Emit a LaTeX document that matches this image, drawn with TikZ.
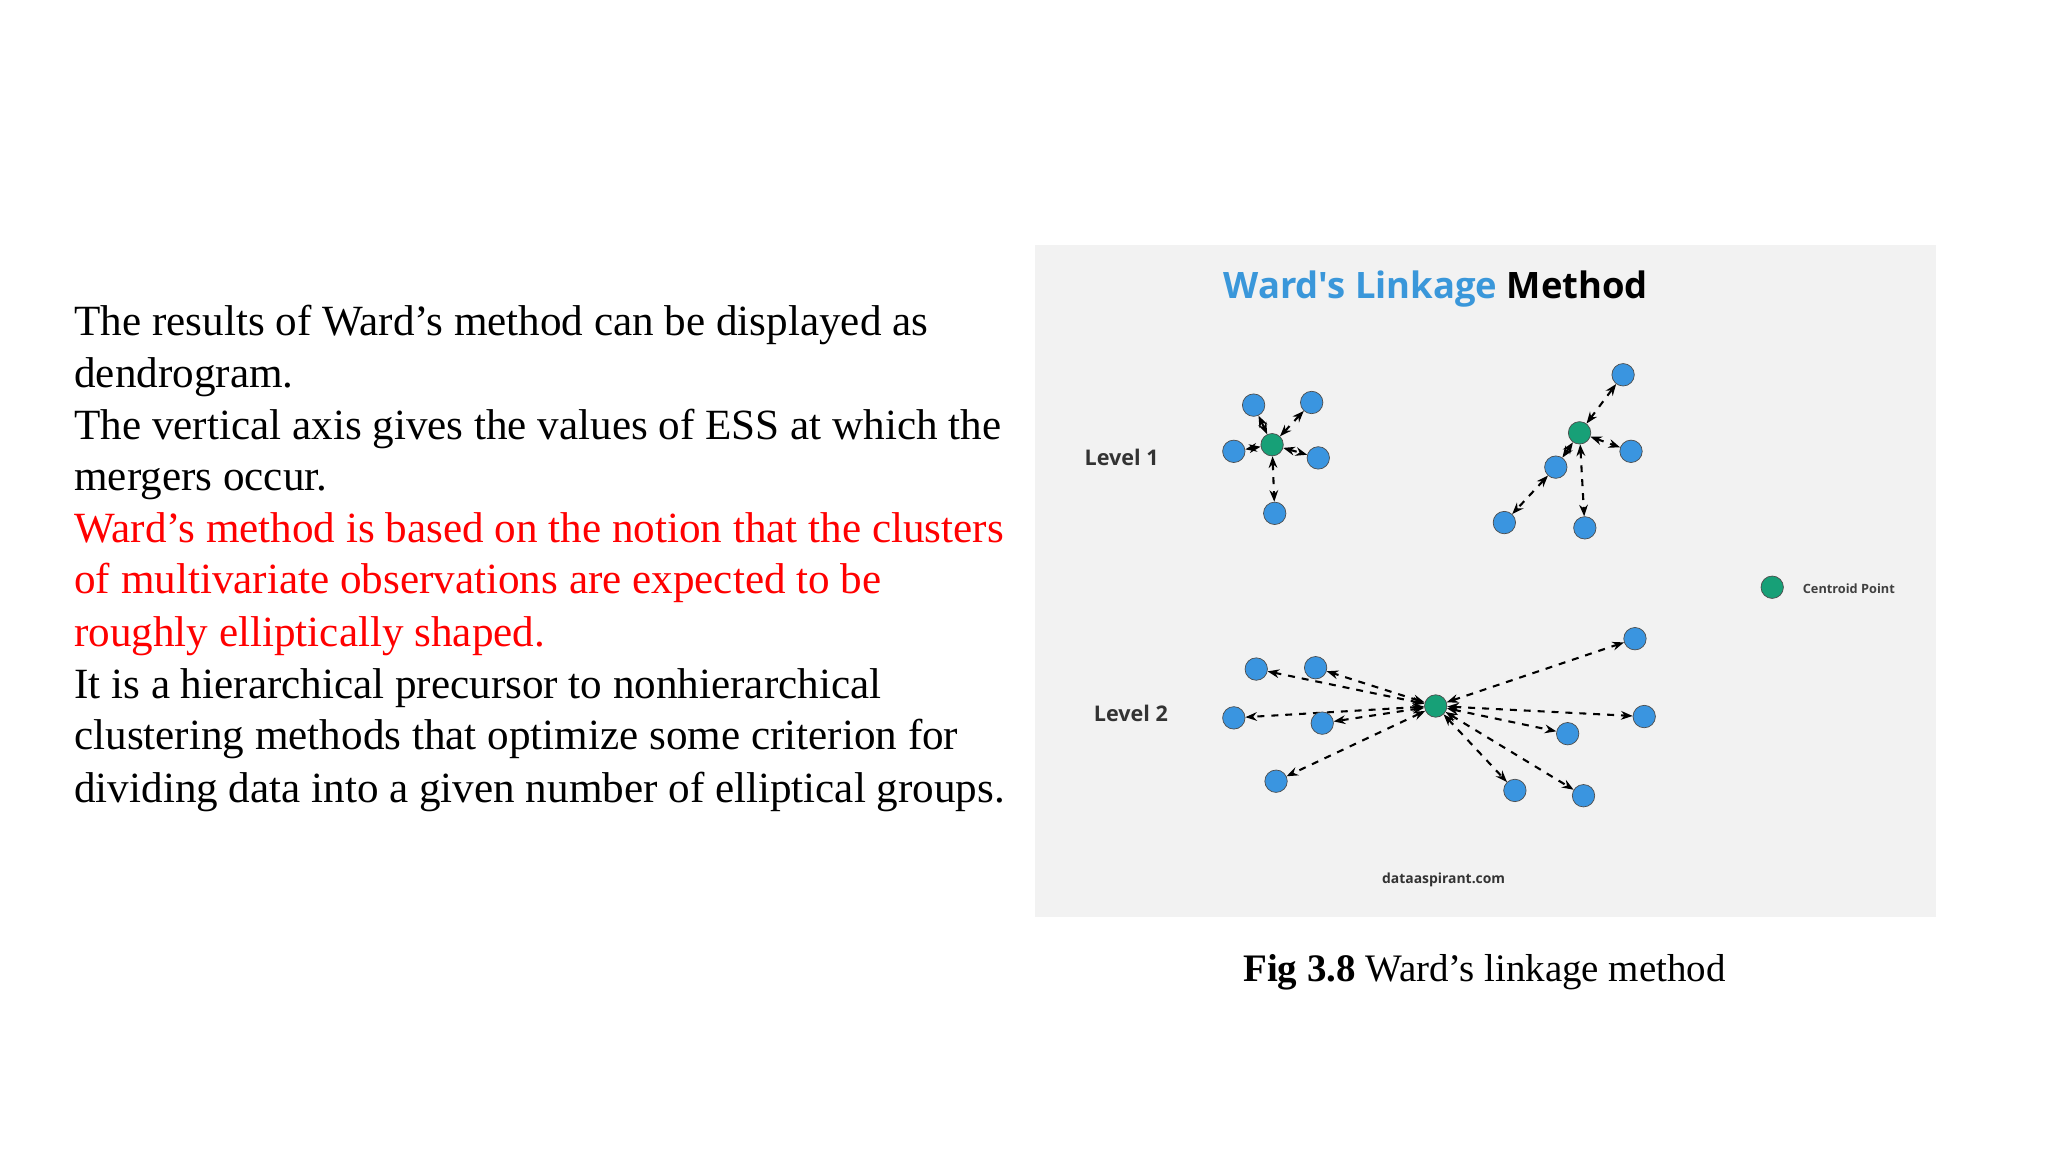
\documentclass[tikz,border=0pt]{standalone}
\usepackage{fontspec}
\setmainfont{Liberation Serif}
\newfontfamily\osans{Open Sans}
\usetikzlibrary{arrows.meta}
\definecolor{ptblue}{HTML}{3A95E0}
\definecolor{ptgreen}{HTML}{17A077}
\definecolor{panel}{HTML}{F2F2F2}
\definecolor{tblue}{HTML}{3A97DA}
\begin{document}
\begin{tikzpicture}[x=0.02cm,y=-0.02cm,
  pt/.style={circle,draw=black!70,line width=0.3pt,fill=ptblue,minimum size=17*0.02cm,inner sep=0pt},
  cen/.style={pt,fill=ptgreen},
  lnk/.style={dashed,line width=0.9pt,{Stealth[length=5pt]}-{Stealth[length=5pt]}},
  body/.style={anchor=base west,inner sep=0pt,font=\fontsize{18.6}{22}\selectfont},
  lvl/.style={font=\osans\bfseries\fontsize{9.3}{11}\selectfont,text=black!80}]
\useasboundingbox (0,0) rectangle (1552,873);
\fill[panel] (784,186) rectangle (1467,695);
% text
\node[body] (t1) at (56,254) {The results of Ward’s method can be displayed as};
\node[body] (t2) at (56,294) {dendrogram.};
\node[body] (t3) at (56,333) {The vertical axis gives the values of ESS at which the};
\node[body] (t4) at (56,372) {mergers occur.};
\node[body,text=red] (t5) at (56,411) {Ward’s method is based on the notion that the clusters};
\node[body,text=red] (t6) at (56,450) {of multivariate observations are expected to be};
\node[body,text=red] (t7) at (56,490) {roughly elliptically shaped.};
\node[body] (t8) at (56,529) {It is a hierarchical precursor to nonhierarchical};
\node[body] (t9) at (56,568) {clustering methods that optimize some criterion for};
\node[body] (t10) at (56,608) {dividing data into a given number of elliptical groups.};
% title
\node[font=\osans\bfseries\fontsize{15.7}{19}\selectfont] (title) at (1088,219) {\textcolor{tblue}{Ward's Linkage} Method};
\node[lvl] (l1) at (850,347) {Level 1};
\node[lvl] (l2) at (857,541) {Level 2};
% cluster 1
\node[cen] (c1) at (964,337) {};
\foreach \n/\x/\y in {a/950/307,b/994/305,c/935/342,d/999/347,e/966/389}
  {\node[pt] (c1\n) at (\x,\y) {}; \draw[lnk] (c1) -- (c1\n);}
% cluster 2
\node[cen] (c2) at (1197,328) {};
\foreach \n/\x/\y in {a/1230/284,b/1236/342,c/1179/354,e/1201/400}
  {\node[pt] (c2\n) at (\x,\y) {}; \draw[lnk] (c2) -- (c2\n);}
\node[pt] (c2d) at (1140,396) {};
\draw[lnk] (c2c) -- (c2d);
% level 2
\node[cen] (c3) at (1088,535) {};
\foreach \n/\x/\y in {a/952/507,b/997/506,c/935/544,d/1002/548,e/967/592,f/1239/484,g/1246/543,h/1188/556,i/1148/599,j/1200/603}
  {\node[pt] (c3\n) at (\x,\y) {}; \draw[lnk] (c3) -- (c3\n);}
% legend
\node[cen] (leg) at (1343,445) {};
\node[anchor=west,font=\osans\bfseries\fontsize{5.5}{7}\selectfont,text=black!75] (legt) at (1360,446) {Centroid Point};
\node[font=\osans\bfseries\fontsize{6}{8}\selectfont,text=black!80] (src) at (1094,667) {dataaspirant.com};
% caption
\node[font=\fontsize{16.8}{20}\selectfont] (cap) at (1125,737) {\textbf{Fig 3.8} Ward’s linkage method};
\end{tikzpicture}
\end{document}
